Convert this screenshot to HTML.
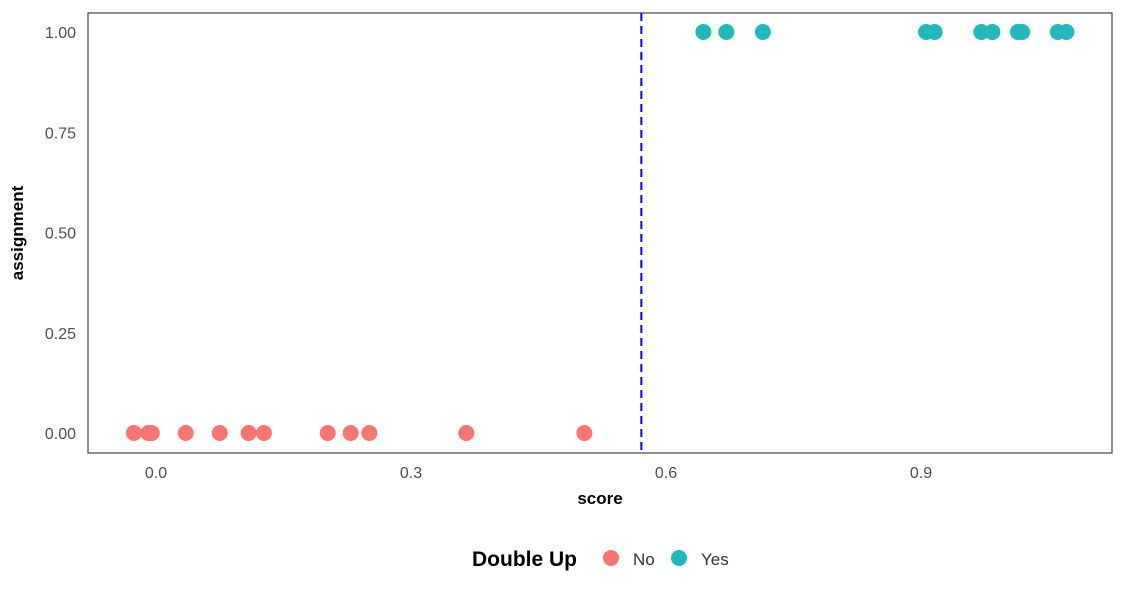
<!DOCTYPE html>
<html><head><meta charset="utf-8"><style>
body{margin:0;background:#fff;font-family:"Liberation Sans",sans-serif;}
svg text{font-family:"Liberation Sans",sans-serif;}
</style></head><body>
<svg id="chart" width="1125" height="600" xmlns="http://www.w3.org/2000/svg">
<rect width="1125" height="600" fill="#fff"/>
<g id="ticks"></g>
<g id="marks"></g>
<rect x="88" y="13" width="1024" height="440" fill="none" stroke="#333" stroke-width="1.1"/>
<text x="600" y="504" text-anchor="middle" font-size="17" font-weight="bold" fill="#000">score</text>
<text transform="translate(23,233) rotate(-90)" text-anchor="middle" font-size="17" font-weight="bold" fill="#000">assignment</text>
<g>
<text x="472" y="566" font-size="21" font-weight="bold" fill="#000">Double Up</text>
<circle cx="611" cy="558" r="8" fill="#F8766D"/>
<text x="633" y="565" font-size="17" fill="#333">No</text>
<circle cx="679" cy="558" r="8" fill="#1FB8BC"/>
<text x="701" y="565" font-size="17" fill="#333">Yes</text>
</g>
</svg>
<script>
const noScores=[-0.026,-0.009,-0.005,0.035,0.075,0.109,0.127,0.202,0.229,0.251,0.365,0.504];
const yesScores=[0.644,0.671,0.714,0.906,0.916,0.971,0.984,1.014,1.019,1.061,1.071];
const xTicks=[0.0,0.3,0.6,0.9];
const xTickLabels=["0.0","0.3","0.6","0.9"];
const yTicks=[0,0.25,0.5,0.75,1];
const yTickLabels=["0.00","0.25","0.50","0.75","1.00"];
const threshold=0.571;
const NS="http://www.w3.org/2000/svg";
function sx(v){return 156+v*850;}
function sy(v){return 433-v*401;}
const tg=document.getElementById('ticks'),mg=document.getElementById('marks');
function mk(tag,attrs,parent){const e=document.createElementNS(NS,tag);for(const k in attrs)e.setAttribute(k,attrs[k]);parent.appendChild(e);return e;}
xTicks.forEach((v,i)=>{
 const t=mk('text',{x:sx(v),y:478,'text-anchor':'middle','font-size':16,fill:'#4d4d4d'},tg);
 t.textContent=xTickLabels[i];
 
 
});
yTicks.forEach((v,i)=>{
 const t=mk('text',{x:76,y:sy(v)+6,'text-anchor':'end','font-size':16,fill:'#4d4d4d'},tg);
 t.textContent=yTickLabels[i];
 
 
});
const vl=mk('line',{x1:sx(threshold),x2:sx(threshold),y1:13,y2:453,stroke:'#0000FF','stroke-width':2,'stroke-dasharray':'8,5'},mg);


noScores.forEach(v=>{
 const c=mk('circle',{cx:sx(v),cy:sy(0),r:8,fill:'#F8766D'},mg);
 
 
});
yesScores.forEach(v=>{
 const c=mk('circle',{cx:sx(v),cy:sy(1),r:8,fill:'#1FB8BC'},mg);
 
 
});
</script>
</body></html>
